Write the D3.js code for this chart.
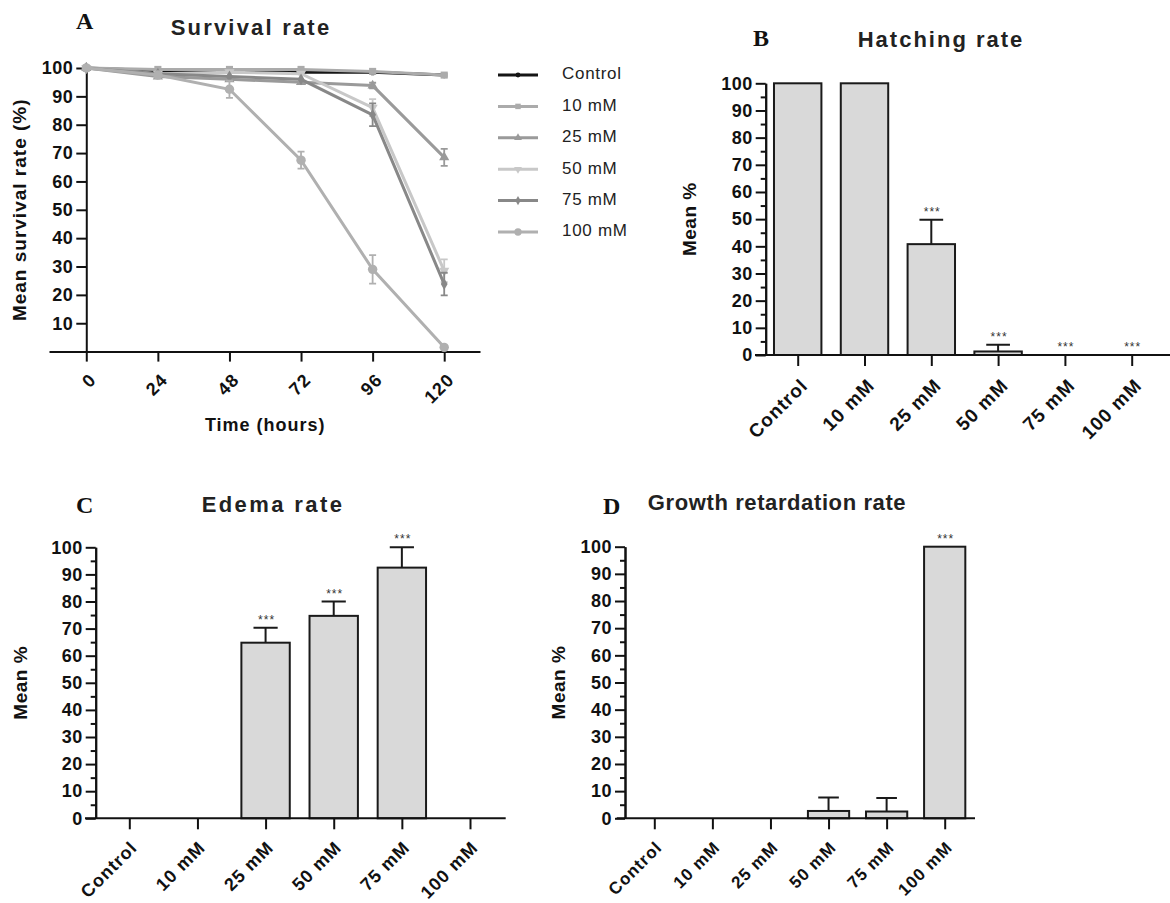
<!DOCTYPE html>
<html>
<head>
<meta charset="utf-8">
<script src="https://cdn.jsdelivr.net/npm/d3@7"></script>
<style>
  body { margin: 0; background: #fff; }
  svg { display: block; font-family: "Liberation Sans", Arial, sans-serif; }
</style>
</head>
<body>
<div id="chart"></div>
<script>
// Panel A data: survival over time
const timePoints = [0, 24, 48, 72, 96, 120];
const groups = ["Control", "10 mM", "25 mM", "50 mM", "75 mM", "100 mM"];
const survControl = [100, 99, 99, 98.5, 98.5, 97.5];
const surv10 = [100, 99.5, 99.5, 99.5, 98.8, 97.5];
const surv25 = [100, 97, 96, 95, 93.8, 68.5];
const surv50 = [100, 98, 98.5, 98, 86, 28.5];
const surv75 = [100, 98, 97, 96, 83.5, 23.8];
const surv100 = [100, 97.5, 92.5, 67.5, 29, 1.5];
const errControl = [0, 0, 0, 0, 0, 0];
const err10 = [0, 0, 0, 0, 0, 0.5];
const err25 = [0, 0, 0, 0, 1, 3];
const err50 = [0, 0, 0, 0, 3, 4];
const err75 = [0, 0, 0, 0, 4, 4];
const err100 = [0, 0.5, 3, 3, 5, 0];
const survTicks = [10, 20, 30, 40, 50, 60, 70, 80, 90, 100];

// Panels B-D data
const hatchValues = [100, 100, 40.8, 1.3, 0, 0];
const hatchErrors = [0, 0, 9, 2.5, 0, 0];
const hatchStars = ["", "", "***", "***", "***", "***"];
const edemaValues = [0, 0, 64.8, 74.7, 92.5, 0];
const edemaErrors = [0, 0, 5.5, 5.3, 7.5, 0];
const edemaStars = ["", "", "***", "***", "***", ""];
const growthValues = [0, 0, 0, 2.7, 2.5, 100];
const growthErrors = [0, 0, 0, 5, 5, 0];
const growthStars = ["", "", "", "", "", "***"];
const barTicks = [0, 10, 20, 30, 40, 50, 60, 70, 80, 90, 100];
const barMinorTicks = [5, 15, 25, 35, 45, 55, 65, 75, 85, 95];

const svg = d3.select("#chart").append("svg")
    .attr("width", 1170)
    .attr("height", 903);
svg.append("rect").attr("width", 1170).attr("height", 903).attr("fill", "#fff");

function styleAxis(g) {
    g.selectAll("path, line").attr("stroke", "#111").attr("stroke-width", 2);
    g.selectAll("text").attr("fill", "#111")
        .style("font-weight", "bold")
        .style("font-size", "18px")
        .style("letter-spacing", "0.5px");
}

function panelLetter(letter, x, y) {
    svg.append("text")
        .attr("x", x).attr("y", y)
        .style("font-family", "'Liberation Serif', 'DejaVu Serif', serif")
        .style("font-weight", "bold")
        .style("font-size", "24px")
        .attr("fill", "#111")
        .text(letter);
}

function panelTitle(text, x, y, spacing) {
    svg.append("text")
        .attr("x", x).attr("y", y)
        .attr("text-anchor", "middle")
        .style("font-weight", "bold")
        .style("font-size", "22px")
        .style("letter-spacing", spacing + "px")
        .attr("fill", "#222")
        .text(text);
}

function yLabel(text, x, y, spacing) {
    svg.append("text")
        .attr("transform", `translate(${x},${y}) rotate(-90)`)
        .attr("text-anchor", "middle")
        .attr("dominant-baseline", "middle")
        .style("font-weight", "bold")
        .style("font-size", "19px")
        .style("letter-spacing", spacing + "px")
        .attr("fill", "#111")
        .text(text);
}

// ---------- Panel A ----------
const seriesA = [
    { name: groups[0], values: survControl, errors: errControl, color: "#151515", symbol: d3.symbolCircle, size: 30, rot: 0 },
    { name: groups[1], values: surv10, errors: err10, color: "#ababab", symbol: d3.symbolSquare, size: 50, rot: 0 },
    { name: groups[2], values: surv25, errors: err25, color: "#9a9a9a", symbol: d3.symbolTriangle, size: 45, rot: 0 },
    { name: groups[3], values: surv50, errors: err50, color: "#c8c8c8", symbol: d3.symbolTriangle, size: 45, rot: 180 },
    { name: groups[4], values: surv75, errors: err75, color: "#888888", symbol: d3.symbolDiamond, size: 40, rot: 0 },
    { name: groups[5], values: surv100, errors: err100, color: "#b0b0b0", symbol: d3.symbolCircle, size: 70, rot: 0 }
];

const xA = d3.scaleLinear().domain([-12.5, 132]).range([49, 480]);
const yA = d3.scaleLinear().domain([0, 100]).range([351.6, 68]);

const gA = svg.append("g");

gA.append("g")
    .attr("transform", `translate(0,${yA(0)})`)
    .call(d3.axisBottom(xA).tickValues(timePoints).tickSize(10).tickSizeOuter(0))
    .call(styleAxis)
    .call(g => g.selectAll("text")
        .attr("x", 0).attr("y", 0).attr("dy", "0.35em")
        .attr("transform", "translate(6,25) rotate(-45)")
        .style("text-anchor", "end")
        .style("letter-spacing", "1px"));

gA.append("g")
    .attr("transform", `translate(${xA(0)},0)`)
    .call(d3.axisLeft(yA).tickValues(survTicks).tickSize(10).tickSizeOuter(0).tickPadding(3))
    .call(styleAxis);

const lineA = d3.line().x((d, i) => xA(timePoints[i])).y(d => yA(d));

seriesA.forEach(s => {
    const g = gA.append("g");
    g.append("path")
        .datum(s.values)
        .attr("fill", "none")
        .attr("stroke", s.color)
        .attr("stroke-width", 3)
        .attr("d", lineA);
    g.selectAll(".eb")
        .data(s.values.map((v, i) => ({ t: timePoints[i], v, e: s.errors[i] })).filter(d => d.e > 0))
        .enter().append("path")
        .attr("fill", "none")
        .attr("stroke", s.color)
        .attr("stroke-width", 1.8)
        .attr("d", d => {
            const x = xA(d.t), y1 = yA(d.v + d.e), y2 = yA(d.v - d.e);
            return `M${x - 3.5},${y1}H${x + 3.5}M${x},${y1}V${y2}M${x - 3.5},${y2}H${x + 3.5}`;
        });
    g.selectAll(".pt")
        .data(s.values)
        .enter().append("path")
        .attr("transform", (d, i) => `translate(${xA(timePoints[i])},${yA(d)}) rotate(${s.rot})`)
        .attr("d", d3.symbol().type(s.symbol).size(s.size))
        .attr("fill", s.color);
});

// legend
const legend = svg.append("g");
seriesA.forEach((s, i) => {
    const ly = 75 + i * 31.4;
    legend.append("line")
        .attr("x1", 498).attr("x2", 538)
        .attr("y1", ly).attr("y2", ly)
        .attr("stroke", s.color).attr("stroke-width", 3);
    legend.append("path")
        .attr("transform", `translate(518,${ly}) rotate(${s.rot})`)
        .attr("d", d3.symbol().type(s.symbol).size(s.size * 0.6))
        .attr("fill", s.color);
    legend.append("text")
        .attr("x", 562).attr("y", ly)
        .attr("dominant-baseline", "middle")
        .style("font-size", "17px")
        .style("letter-spacing", "0.7px")
        .attr("fill", "#222")
        .text(s.name);
});

panelLetter("A", 76, 29);
panelTitle("Survival rate", 251, 35, 2.2);
yLabel("Mean survival rate (%)", 21, yA(50), 1);
svg.append("text")
    .attr("x", xA(60)).attr("y", 431)
    .attr("text-anchor", "middle")
    .style("font-weight", "bold")
    .style("font-size", "18px")
    .style("letter-spacing", "1px")
    .attr("fill", "#111")
    .text("Time (hours)");

// ---------- Bar panels ----------
function drawBars(cfg) {
    const g = svg.append("g");
    const x = d3.scalePoint().domain(groups).range([cfg.first, cfg.last]);
    const step = x.step();
    const bw = step * 0.71;
    const y = d3.scaleLinear().domain([0, 100]).range([cfg.y0, cfg.y100]);

    const data = groups.map((c, i) => ({ c, v: cfg.values[i], e: cfg.errors[i], s: cfg.stars[i] }));

    // bars
    g.selectAll(".bar")
        .data(data.filter(d => d.v > 0))
        .enter().append("rect")
        .attr("x", d => x(d.c) - bw / 2)
        .attr("y", d => y(d.v))
        .attr("width", bw)
        .attr("height", d => y(0) - y(d.v))
        .attr("fill", "#d9d9d9")
        .attr("stroke", "#1a1a1a")
        .attr("stroke-width", 2);

    // error bars (upper only)
    g.selectAll(".err")
        .data(data.filter(d => d.e > 0))
        .enter().append("path")
        .attr("fill", "none")
        .attr("stroke", "#1a1a1a")
        .attr("stroke-width", 2)
        .attr("d", d => {
            const cx = x(d.c), top = y(d.v + d.e);
            return `M${cx},${y(d.v)}V${top}M${cx - bw / 4},${top}H${cx + bw / 4}`;
        });

    // significance stars
    g.selectAll(".star")
        .data(data.filter(d => d.s))
        .enter().append("text")
        .attr("x", d => x(d.c) + 1)
        .attr("y", d => y(d.v + d.e) - 4)
        .attr("text-anchor", "middle")
        .style("font-size", "12px")
        .style("letter-spacing", "1px")
        .attr("fill", "#333")
        .text(d => d.s);

    // x axis
    g.append("line")
        .attr("x1", cfg.axisStart).attr("x2", cfg.axisEnd)
        .attr("y1", y(0)).attr("y2", y(0))
        .attr("stroke", "#111").attr("stroke-width", 2);
    g.append("g")
        .attr("transform", `translate(0,${y(0)})`)
        .call(d3.axisBottom(x).tickSize(11).tickSizeOuter(0))
        .call(styleAxis)
        .call(a => a.select(".domain").remove())
        .call(a => a.selectAll("text")
            .attr("x", 0).attr("y", 0).attr("dy", "0.35em")
            .attr("transform", cfg.labelShift + " rotate(-45)")
            .style("text-anchor", "end")
            .style("font-size", cfg.labelSize + "px")
            .style("letter-spacing", "1px"));

    // y axis with minor ticks
    g.append("g")
        .attr("transform", `translate(${cfg.yAxisX},0)`)
        .call(d3.axisLeft(y).tickValues(barMinorTicks).tickSize(5).tickSizeOuter(0).tickFormat(""))
        .call(styleAxis);
    g.append("g")
        .attr("transform", `translate(${cfg.yAxisX},0)`)
        .call(d3.axisLeft(y).tickValues(barTicks).tickSize(10).tickSizeOuter(0).tickPadding(3))
        .call(styleAxis);

    yLabel("Mean %", cfg.labelX, y(50), 0.5);
}

drawBars({
    values: hatchValues, errors: hatchErrors, stars: hatchStars,
    yAxisX: 765.7, y0: 355, y100: 83.3,
    first: 797.7, last: 1131.7, axisStart: 755, axisEnd: 1175,
    labelX: 691, labelShift: "translate(6,27)", labelSize: 19
});
panelLetter("B", 753, 46);
panelTitle("Hatching rate", 941, 47, 2);

drawBars({
    values: edemaValues, errors: edemaErrors, stars: edemaStars,
    yAxisX: 95.7, y0: 818.3, y100: 547.3,
    first: 129.3, last: 470, axisStart: 85, axisEnd: 505.7,
    labelX: 22, labelShift: "translate(4,26)", labelSize: 18
});
panelLetter("C", 76, 513);
panelTitle("Edema rate", 273, 512, 2.4);

drawBars({
    values: growthValues, errors: growthErrors, stars: growthStars,
    yAxisX: 625, y0: 818.3, y100: 546.7,
    first: 654.3, last: 944.7, axisStart: 616.7, axisEnd: 975,
    labelX: 560, labelShift: "translate(4,26)", labelSize: 17
});
panelLetter("D", 603, 514);
panelTitle("Growth retardation rate", 777, 510, 0.6);
</script>
</body>
</html>
